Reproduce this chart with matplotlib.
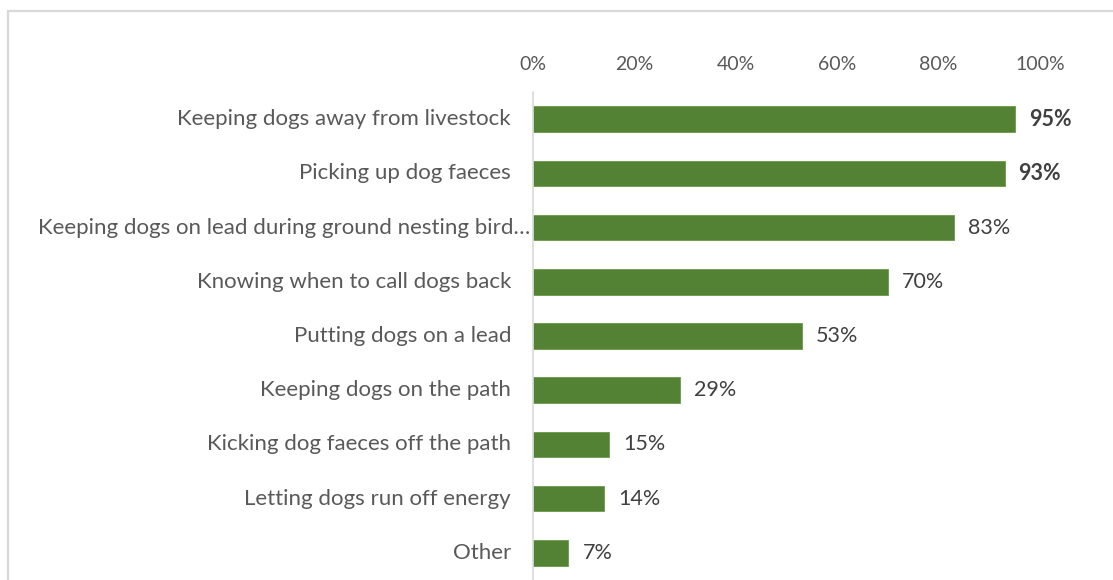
import matplotlib
matplotlib.use("Agg")
import matplotlib.pyplot as plt
from matplotlib.patches import Rectangle
from matplotlib.transforms import offset_copy, blended_transform_factory

categories = [
    "Keeping dogs away from livestock",
    "Picking up dog faeces",
    "Keeping dogs on lead during ground nesting bird\u2026",
    "Knowing when to call dogs back",
    "Putting dogs on a lead",
    "Keeping dogs on the path",
    "Kicking dog faeces off the path",
    "Letting dogs run off energy",
    "Other",
]
values = [95, 93, 83, 70, 53, 29, 15, 14, 7]
bold_labels = [True, True, False, False, False, False, False, False, False]
x_ticks = [0, 20, 40, 60, 80, 100]
x_tick_labels = ["0%", "20%", "40%", "60%", "80%", "100%"]

plt.rcParams["font.family"] = ["Lato", "DejaVu Sans"]

W, H = 1113, 580
fig = plt.figure(figsize=(W / 100, H / 100), dpi=100)
fig.patch.set_facecolor("white")

# outer chart frame
fig.patches.append(Rectangle((8 / W, -0.1), 1.2, (H - 11) / H + 0.1,
                             transform=fig.transFigure, fill=False,
                             edgecolor="#d9d9d9", linewidth=1.6))

ax = fig.add_axes([533 / W, 0, (1040 - 533) / W, (H - 92) / H])
ypos = list(range(len(categories)))
ax.barh(ypos, values, height=0.47, color="#548235", edgecolor="#6a9a4a", linewidth=0.6)
ax.set_xlim(0, 100)
ax.set_ylim(len(categories) - 0.5, -0.5)

ax.xaxis.tick_top()
ax.set_xticks(x_ticks)
ax.set_xticklabels(x_tick_labels, fontsize=14, color="#595959")
ax.tick_params(axis="x", length=0, pad=14)
ax.set_yticks([])
for s in ["top", "right", "bottom"]:
    ax.spines[s].set_visible(False)
ax.spines["left"].set_color("#d9d9d9")
ax.spines["left"].set_linewidth(1.2)

trans = blended_transform_factory(ax.transAxes, ax.transData)
for i, (cat, v, b) in enumerate(zip(categories, values, bold_labels)):
    dx = -3 if cat.endswith("\u2026") else -22
    ax.text(0, i, cat, transform=offset_copy(trans, fig=fig, x=dx, y=0, units="dots"),
            ha="right", va="center", fontsize=16, color="#595959")
    ax.annotate(f"{v}%", xy=(v, i), xytext=(14, 0), textcoords="offset pixels",
                ha="left", va="center", fontsize=15.5, color="#404040",
                fontweight="bold" if b else "normal")

fig.savefig("out.png", dpi=100, facecolor="white")
